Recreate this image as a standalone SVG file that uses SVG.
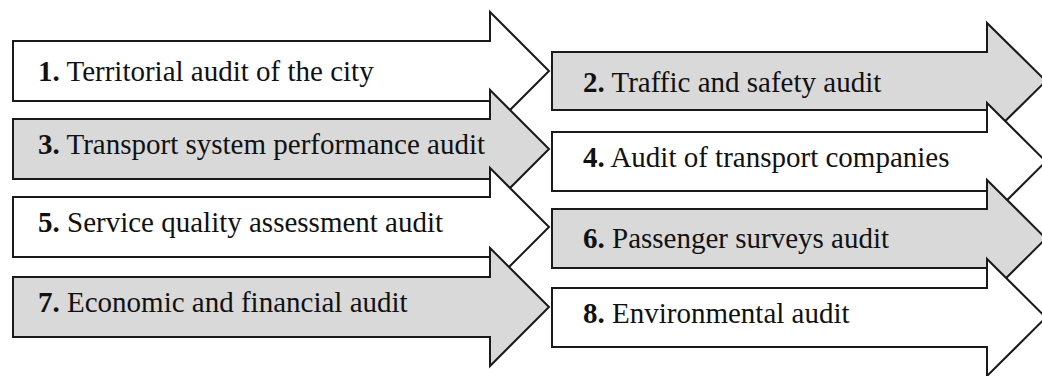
<svg xmlns="http://www.w3.org/2000/svg" width="1042" height="376" viewBox="0 0 1042 376" font-family="Liberation Serif, Times New Roman, serif">
<style>
.a{stroke:#1a1a1a;stroke-width:2;stroke-linejoin:miter}
.w{fill:#ffffff}
.g{fill:#d9d9d9}
.n{font-weight:bold}
</style>
<rect width="1042" height="376" fill="#ffffff"/>
<g id="node1">
<path class="a w" d="M13,41 H490 V12 L549,71 L490,130 V101 H13 Z"/>
<text font-family="Times New Roman, serif" font-size="29" fill="#111111" x="38" y="81"><tspan class="n">1.</tspan> Territorial audit of the city</text>
</g>
<g id="node3">
<path class="a g" d="M13,119 H490 V90 L549,149 L490,208 V179 H13 Z"/>
<text font-family="Times New Roman, serif" font-size="29" fill="#111111" x="38" y="154"><tspan class="n">3.</tspan> Transport system performance audit</text>
</g>
<g id="node5">
<path class="a w" d="M13,197 H490 V168 L549,227 L490,286 V257 H13 Z"/>
<text font-family="Times New Roman, serif" font-size="29" fill="#111111" x="38" y="232"><tspan class="n">5.</tspan> Service quality assessment audit</text>
</g>
<g id="node7">
<path class="a g" d="M13,277 H490 V248 L549,307 L490,366 V337 H13 Z"/>
<text font-family="Times New Roman, serif" font-size="29" fill="#111111" x="38" y="312"><tspan class="n">7.</tspan> Economic and financial audit</text>
</g>
<g id="node2">
<path class="a g" d="M552,52 H987 V23 L1046,81 L987,139 V110 H552 Z"/>
<text font-family="Times New Roman, serif" font-size="29" fill="#111111" x="583" y="92"><tspan class="n">2.</tspan> Traffic and safety audit</text>
</g>
<g id="node4">
<path class="a w" d="M552,132 H987 V103 L1046,161.5 L987,220 V191 H552 Z"/>
<text font-family="Times New Roman, serif" font-size="29" fill="#111111" x="583" y="167"><tspan class="n">4.</tspan> Audit of transport companies</text>
</g>
<g id="node6">
<path class="a g" d="M552,209 H987 V180 L1046,238.5 L987,297 V268 H552 Z"/>
<text font-family="Times New Roman, serif" font-size="29" fill="#111111" x="583" y="248"><tspan class="n">6.</tspan> Passenger surveys audit</text>
</g>
<g id="node8">
<path class="a w" d="M552,288 H987 V259 L1046,317.5 L987,376 V347 H552 Z"/>
<text font-family="Times New Roman, serif" font-size="29" fill="#111111" x="583" y="323"><tspan class="n">8.</tspan> Environmental audit</text>
</g>
</svg>
